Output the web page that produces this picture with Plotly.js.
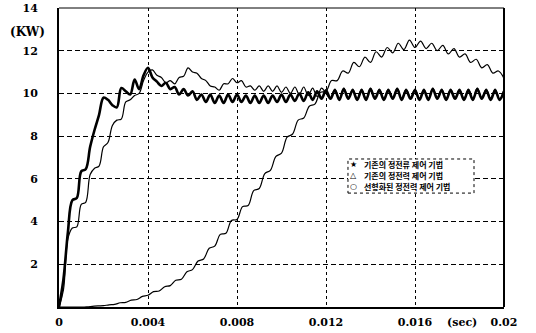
<!DOCTYPE html>
<html>
<head>
<meta charset="utf-8">
<script src="https://cdn.plot.ly/plotly-3.0.1.min.js"></script>
<style>
html,body{margin:0;padding:0;background:#fff;}
#chart{width:536px;height:333px;}
</style>
</head>
<body>
<div id="chart"></div>
<script>
// sampling interval of the simulated power curves (sec)
const dtFast = 0.0002;   // series 1 and 2
const dtSlow = 0.00025;  // series 3

// Series names (legend)
const seriesNames = [
  "기존의 정전류 제어 기법",
  "기존의 정전력 제어 기법",
  "선형화된 정전력 제어 기법"
];
const seriesSymbols = ["★", "△", "○"];

// Series 1: thick curve (kW), t = 0 .. 0.02 step dtFast
const powerConvI = [
  0, 1.3, 3.5, 5.0, 5.1, 6.35, 6.45, 7.5, 8.3, 9.0,
  9.8, 9.7, 9.45, 9.35, 10.25, 10.1, 9.95, 10.65, 10.2, 10.85,
  11.2, 10.75, 10.55, 10.35, 10.5, 10.2, 10.3, 9.95, 10.2, 9.9,
  10.1, 9.7, 9.95, 9.6, 9.95, 9.55, 9.9, 9.55, 9.95, 9.6,
  9.95, 9.6, 9.9, 9.55, 9.9, 9.55, 9.9, 9.55, 9.9, 9.6,
  9.95, 9.6, 9.95, 9.65, 10.0, 9.65, 10.05, 9.7, 10.1, 9.75,
  10.15, 9.75, 10.15, 9.7, 10.2, 9.75, 10.15, 9.7, 10.15, 9.7,
  10.2, 9.75, 10.15, 9.7, 10.15, 9.75, 10.2, 9.7, 10.15, 9.75,
  10.15, 9.7, 10.15, 9.7, 10.2, 9.75, 10.15, 9.7, 10.15, 9.75,
  10.15, 9.7, 10.15, 9.7, 10.2, 9.75, 10.15, 9.7, 10.15, 9.7,
  10.1
];

// Series 2: thin curve (kW), t = 0 .. 0.02 step dtFast
const powerConvP = [
  0, 0.8, 3.2, 3.7, 3.75, 4.8, 4.9, 6.2, 6.5, 6.6,
  7.5, 7.7, 8.5, 8.75, 8.8, 9.6, 9.7, 9.9, 10.0, 10.6,
  11.0, 11.1, 10.85, 10.75, 10.5, 10.6, 10.45, 10.75, 10.8, 11.2,
  11.0, 10.95, 10.7, 10.6, 10.35, 10.3, 10.15, 10.45, 10.45, 10.7,
  10.5, 10.6, 10.3, 10.35, 10.15, 10.35, 10.1, 10.35, 10.1, 10.35,
  10.05, 10.3, 10.0, 10.3, 9.95, 10.3, 9.9, 10.25, 9.85, 10.25,
  10.0, 9.75, 10.2, 9.75, 10.25, 9.8, 10.2, 9.75, 10.2, 9.75,
  10.25, 9.8, 10.2, 9.75, 10.2, 9.8, 10.25, 9.75, 10.2, 9.8,
  10.2, 9.75, 10.2, 9.75, 10.25, 9.8, 10.2, 9.75, 10.2, 9.8,
  10.2, 9.75, 10.2, 9.75, 10.25, 9.8, 10.2, 9.75, 10.2, 9.75,
  10.15
];

// Series 3: linearized constant power (kW), t = 0 .. 0.02 step dtSlow
const powerLinP = [
  0, 0, 0, 0, 0, 0.01, 0.03, 0.05, 0.06, 0.1,
  0.12, 0.2, 0.22, 0.32, 0.35, 0.5, 0.55, 0.72, 0.75, 0.95,
  1.0, 1.25, 1.3, 1.65, 1.75, 2.15, 2.25, 2.75, 2.85, 3.4,
  3.45, 4.05, 4.1, 4.7, 4.75, 5.45, 5.55, 6.25, 6.4, 7.05,
  7.2, 7.95, 8.1, 8.75, 8.85, 9.4, 9.5, 10.05, 10.1, 10.6,
  10.6, 11.05, 10.95, 11.45, 11.25, 11.7, 11.45, 11.95, 11.7, 12.15,
  11.9, 12.35, 12.05, 12.5, 12.15, 12.45, 12.1, 12.35, 12.0, 12.25,
  11.85, 12.1, 11.7, 11.85, 11.45, 11.6, 11.2, 11.35, 10.95, 11.05,
  10.7
];

// Tick labels
const xTickVals = [0, 0.004, 0.008, 0.012, 0.016, 0.02];
const xTickText = ["0", "0.004", "0.008", "0.012", "0.016", "0.02"];
const yTickVals = [2, 4, 6, 8, 10, 12, 14];
const yTickText = ["2", "4", "6", "8", "10", "12", "14"];

const lineStyle = (w) => ({color: "#000", width: w, shape: "spline", smoothing: 1});

const traces = [
  {type: "scatter", mode: "lines", name: seriesNames[2], x0: 0, dx: dtSlow, y: powerLinP, line: lineStyle(1.2)},
  {type: "scatter", mode: "lines", name: seriesNames[1], x0: 0, dx: dtFast, y: powerConvP, line: lineStyle(1.2)},
  {type: "scatter", mode: "lines", name: seriesNames[0], x0: 0, dx: dtFast, y: powerConvI, line: lineStyle(2.6)}
];

const serif = {family: "DejaVu Serif, Liberation Serif, serif", size: 11, color: "#000", weight: "bold"};
const korean = {family: "Noto Sans CJK KR, sans-serif", size: 8, color: "#000", weight: "bold"};
const sym = {family: "DejaVu Sans, sans-serif", size: 8, color: "#000"};

// legend layout (paper coords)
const legX0 = 0.6494, legX1 = 0.9326, legY0 = 0.3810, legY1 = 0.4950;
const legRows = [0.4750, 0.4385, 0.4020];

const annotations = [
  {xref: "paper", yref: "paper", x: -0.07, y: 0.921, text: "(KW)", showarrow: false,
   xanchor: "center", yanchor: "middle", font: Object.assign({}, serif, {size: 12})},
  {xref: "paper", yref: "paper", x: 0.906, y: -0.051, text: "(sec)", showarrow: false,
   xanchor: "center", yanchor: "middle", font: serif}
];
for (let i = 0; i < 3; i++) {
  annotations.push({xref: "paper", yref: "paper", x: 0.661, y: legRows[i], text: seriesSymbols[i],
    showarrow: false, xanchor: "center", yanchor: "middle", font: sym, borderpad: 0});
  annotations.push({xref: "paper", yref: "paper", x: 0.683, y: legRows[i], text: seriesNames[i],
    showarrow: false, xanchor: "left", yanchor: "middle", font: korean, borderpad: 0});
}

const layout = {
  width: 536, height: 333,
  margin: {l: 59, r: 32, t: 8, b: 26},
  paper_bgcolor: "#fff", plot_bgcolor: "#fff",
  showlegend: false,
  xaxis: {
    range: [0, 0.02], tickvals: xTickVals, ticktext: xTickText,
    showgrid: true, gridcolor: "#000", gridwidth: 1, griddash: "3px,3px",
    showline: true, linecolor: "#000", linewidth: 2, zeroline: false,
    ticks: "", tickfont: serif, ticklabelstandoff: 4, fixedrange: true
  },
  yaxis: {
    range: [0, 14], tickvals: yTickVals, ticktext: yTickText,
    showgrid: true, gridcolor: "#000", gridwidth: 1, griddash: "5px,3px",
    showline: true, linecolor: "#000", linewidth: 2, zeroline: false,
    ticks: "", tickfont: serif, ticklabelstandoff: 17, fixedrange: true
  },
  shapes: [
    {type: "line", xref: "paper", yref: "paper", x0: 0, x1: 1, y0: 1, y1: 1, line: {color: "#000", width: 1}},
    {type: "line", xref: "paper", yref: "paper", x0: 1, x1: 1, y0: 0, y1: 1, line: {color: "#000", width: 2}},
    {type: "rect", xref: "paper", yref: "paper", x0: legX0, x1: legX1, y0: legY0, y1: legY1,
     fillcolor: "#ffffff", opacity: 1, layer: "above", line: {color: "#000", width: 1, dash: "dot"}}
  ],
  annotations: annotations
};

Plotly.newPlot("chart", traces, layout, {staticPlot: true, displayModeBar: false});
</script>
</body>
</html>
